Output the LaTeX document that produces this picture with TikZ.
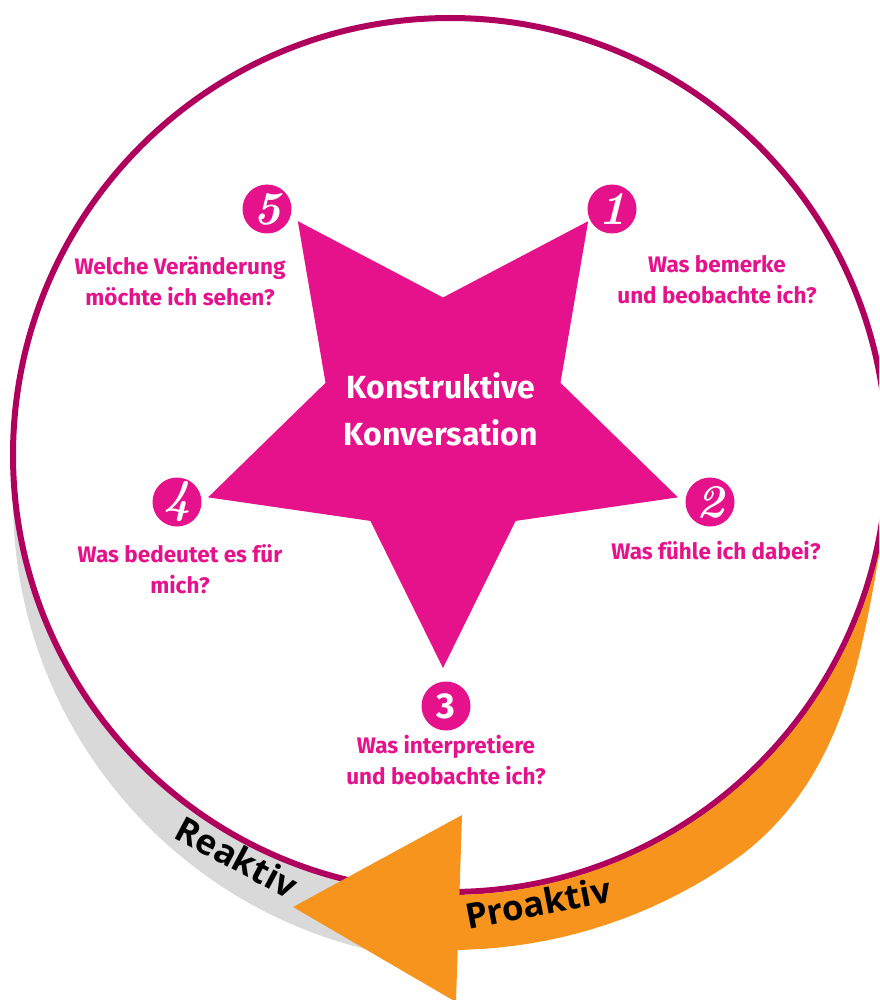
\documentclass[tikz,border=0pt]{standalone}
\usepackage{fontspec}
\newfontfamily\labelfont{Fira Sans}
\newfontfamily\cyclefont{Open Sans}
\usetikzlibrary{positioning, shapes.geometric}

\definecolor{ringred}{HTML}{B0005E}
\definecolor{starpink}{HTML}{E6128B}
\definecolor{arroworange}{HTML}{F7941D}
\definecolor{shadowgray}{HTML}{D9D9D9}

\begin{document}
\begin{tikzpicture}[
    x=1pt, y=-1pt,
    bigstar/.style={star, star points=5, star point ratio=2, minimum size=494pt, inner sep=0pt, fill=starpink, shape border rotate=180},
    startext/.style={align=center, text=white, font=\labelfont\fontsize{32}{47}\selectfont\bfseries},
    numdot/.style={circle, fill=starpink, minimum size=49pt, inner sep=0pt, text=white, font=\fontsize{47}{47}\selectfont\bfseries\itshape},
    question/.style={align=center, text=starpink, font=\labelfont\fontsize{22.5}{31}\selectfont\bfseries},
    cyclelabel/.style={text=black, font=\cyclefont\fontsize{35}{35}\selectfont\bfseries}
]
\useasboundingbox (0,0) rectangle (879,1000);
\clip (0,0) rectangle (879,1000);

\begin{scope}
\clip (0,480) rectangle (452,1000);
\fill[shadowgray] (475,500) circle[radius=462pt];
\end{scope}

\draw[ringred, line width=6pt, fill=white] (450,455) circle[radius=437pt];

\fill[arroworange]
    plot[domain=10:55, samples=40, variable=\t] ({450+(440+27.5*(1-cos(4*(\t-10))))*cos(\t)}, {455+(440+27.5*(1-cos(4*(\t-10))))*sin(\t)})
    -- plot[domain=55:90, samples=20, variable=\t] ({450+495*cos(\t)}, {455+495*sin(\t)})
    -- plot[domain=90:10, samples=40, variable=\t] ({450+440*cos(\t)}, {455+440*sin(\t)}) -- cycle;
\coordinate (tip) at (293,907);
\coordinate (barbtop) at (462,815);
\coordinate (barbbot) at (456,1002);
\fill[arroworange] (tip) -- (barbtop) -- (barbbot) -- cycle;

\node[bigstar] (star) at (443,421) {};
\node[startext] (title) at (441,409) {Konstruktive\\Konversation};

\node[numdot] (n1) at (612,209) {1};
\node[numdot] (n2) at (710,502) {2};
\node[numdot] (n3) at (446,706) {\labelfont\fontsize{36}{36}\selectfont\upshape 3};
\node[numdot] (n4) at (177,502) {4};
\node[numdot] (n5) at (267,209) {5};

\node[question] (q1) at (717,280) {Was bemerke\\und beobachte ich?};
\node[question] (q2) at (716,551) {Was fühle ich dabei?};
\node[question] (q3) at (446,760) {Was interpretiere\\und beobachte ich?};
\node[question] (q4) at (180,569) {Was bedeutet es für\\mich?};
\node[question] (q5) at (180,281) {Welche Veränderung\\möchte ich sehen?};

\node[cyclelabel, rotate=11] (proaktiv) at (538,903) {Proaktiv};
\node[cyclelabel, rotate=-28] (reaktiv) at (237,857) {Reaktiv};
\end{tikzpicture}
\end{document}
